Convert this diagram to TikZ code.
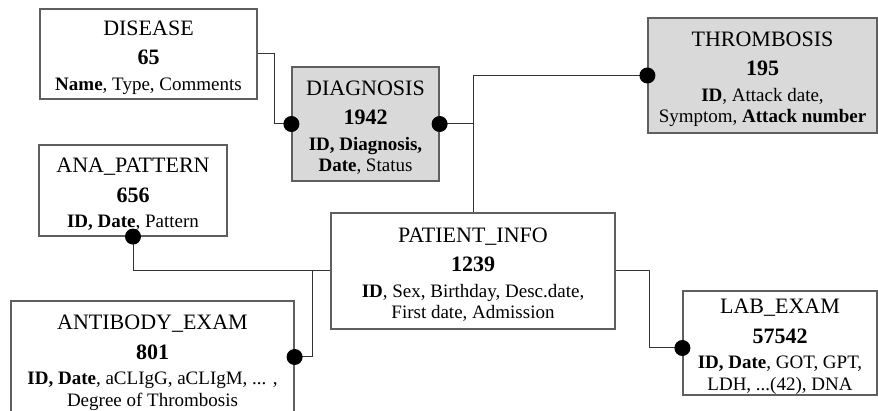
\documentclass[tikz,border=0pt]{standalone}
\usepackage{fontspec}
\setmainfont{Liberation Serif}
\usetikzlibrary{calc}
\definecolor{boxgray}{HTML}{D9D9D9}
\definecolor{edgegray}{HTML}{5F5F5F}
\tikzset{
  entity/.style={draw=edgegray, line width=1.2pt, align=center, inner sep=0pt,
    font=\fontsize{19}{21.5}\selectfont},
  shaded/.style={entity, fill=boxgray},
  link/.style={draw=black!80, line width=1pt},
}
\newcommand{\ename}[1]{{\fontsize{22}{26}\selectfont\rule{0pt}{22pt}#1}\\[8pt]}
\newcommand{\ecount}[1]{{\fontsize{22}{26}\selectfont\bfseries #1}\\[4pt]}

\begin{document}
\begin{tikzpicture}[x=1pt, y=-1pt]
  \useasboundingbox (0,0) rectangle (878,411);
  \clip (0,0) rectangle (878,411);
  % tables
  \node[entity, minimum width=217, minimum height=90] (dis) at (148.5,54)
    {\ename{DISEASE}\ecount{65}\textbf{Name}, Type, Comments};
  \node[shaded, minimum width=147, minimum height=114] (dia) at (365.5,124)
    {\ename{DIAGNOSIS}\ecount{1942}\textbf{ID, Diagnosis,}\\\textbf{Date}, Status};
  \node[shaded, minimum width=229, minimum height=115] (thr) at (762.5,75.5)
    {\ename{THROMBOSIS}\ecount{195}\textbf{ID}, Attack date,\\Symptom, \textbf{Attack number}};
  \node[entity, minimum width=188, minimum height=91] (ana) at (133,190.5)
    {\ename{ANA\_PATTERN}\ecount{656}\textbf{ID, Date}, Pattern};
  \node[entity, minimum width=284, minimum height=116] (pat) at (473,271)
    {\ename{PATIENT\_INFO}\ecount{1239}\textbf{ID}, Sex, Birthday, Desc.date,\\First date, Admission};
  \node[entity, minimum width=283, minimum height=116] (anti) at (152.5,359)
    {\ename{ANTIBODY\_EXAM}\ecount{801}\textbf{ID, Date}, aCLIgG, aCLIgM, ... ,\\Degree of Thrombosis};
  \node[entity, minimum width=194, minimum height=104] (lab) at (780,343)
    {\ename{LAB\_EXAM}\ecount{57542}\textbf{ID, Date}, GOT, GPT,\\LDH, ...(42), DNA};
  % links
  \coordinate (hub) at (dia.east -| pat.north);
  \coordinate (antiin) at ($(anti.east)+(0,-2)$);
  \coordinate (labin) at ($(lab.west)+(0,5)$);
  \draw[link] (dis.east) -- ++(17,0) |- (dia.west);
  \draw[link] (thr.west) -| (pat.north);
  \draw[link] (dia.east) -- (hub);
  \draw[link] (ana.south) |- (pat.west);
  \draw[link] (antiin) -| ($(pat.west)+(-18,0)$);
  \draw[link] (pat.east) -- ++(34,0) |- (labin);
  \foreach \p in {dia.west, dia.east, thr.west, ana.south, antiin, labin}
    \fill (\p) circle (8pt);
\end{tikzpicture}
\end{document}
